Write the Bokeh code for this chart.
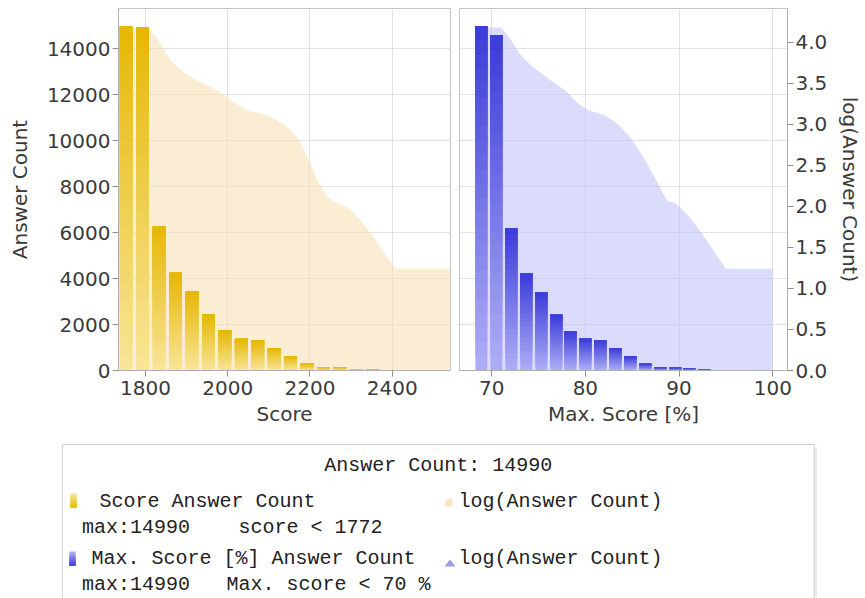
import numpy as np
from bokeh.plotting import figure
from bokeh.models import Range1d, LinearAxis, FixedTicker, PrintfTickFormatter, Grid
from bokeh.layouts import column, row
from bokeh.embed import file_html
from bokeh.resources import INLINE
from bokeh.core.properties import value

# ---------------- data ----------------
score_bins = [1753, 1793, 1833, 1873, 1913, 1953, 1993, 2033, 2073, 2113, 2153, 2193, 2233, 2273, 2313, 2353]
score_counts = [14990, 14950, 6270, 4250, 3440, 2440, 1740, 1380, 1310, 970, 610, 290, 145, 140, 70, 40]

pct_bins = [68.9, 70.5, 72.1, 73.7, 75.3, 76.9, 78.4, 80.0, 81.6, 83.2, 84.8, 86.4, 88.0, 89.6, 91.1, 92.7]
pct_counts = [14990, 14600, 6195, 4236, 3409, 2423, 1697, 1378, 1306, 972, 609, 290, 130, 116, 87, 58]

score_log_x = [1736, 1812, 1837, 1861, 1893, 1934, 1974, 2015, 2047, 2081, 2113, 2146, 2170, 2194,
               2219, 2243, 2259, 2292, 2323, 2356, 2388, 2408, 2540]
score_log_y = [4.18, 4.16, 3.98, 3.78, 3.63, 3.51, 3.41, 3.27, 3.17, 3.13, 3.07, 2.96, 2.84, 2.60,
               2.31, 2.11, 2.05, 1.99, 1.83, 1.62, 1.38, 1.24, 1.24]

pct_log_x = [68.3, 71.0, 71.9, 72.96, 74.35, 76.1, 77.86, 79.25, 80.3, 82.05, 83.4, 84.8, 86.2,
             87.6, 88.7, 89.7, 91.1, 92.5, 93.9, 95.0, 100.0]
pct_log_y = [4.18, 4.18, 4.06, 3.86, 3.70, 3.55, 3.41, 3.25, 3.17, 3.11, 3.01, 2.84, 2.60,
             2.31, 2.07, 2.03, 1.87, 1.66, 1.42, 1.24, 1.24]

count_ticks = [0, 2000, 4000, 6000, 8000, 10000, 12000, 14000]
score_ticks = [1800, 2000, 2200, 2400]
pct_ticks = [70, 80, 90, 100]
log_ticks = [0.0, 0.5, 1.0, 1.5, 2.0, 2.5, 3.0, 3.5, 4.0]

legend_title = "Answer Count: 14990"
legend_rows = ["Score Answer Count", "max:14990", "score < 1772",
               "Max. Score [%] Answer Count", "max:14990", "Max. score < 70 %"]
legend_log = "log(Answer Count)"

# ---------------- styling ----------------
FONT = "DejaVu Sans"
MONO = "Liberation Mono"
TXT = "#3a3a3a"
YEL_TOP, YEL_BOT = (229, 182, 0), (248, 228, 150)
BLU_TOP, BLU_BOT = (56, 56, 216), (172, 172, 246)
NSLICE = 24


def mix(c0, c1, t):
    return "#%02x%02x%02x" % tuple(int(round(a + (b - a) * t)) for a, b in zip(c0, c1))


def gradient_bars(p, xs, hs, width, top, bot):
    xs = np.asarray(xs, float)
    hs = np.asarray(hs, float)
    for j in range(NSLICE):
        t = j / NSLICE
        p.vbar(x=xs, width=width, bottom=hs * t, top=hs,
               fill_color=mix(bot, top, t), line_color=None)


def style(p):
    p.outline_line_color = "#c4c4c4"
    p.background_fill_color = "white"
    p.border_fill_color = "white"
    for ax in p.axis:
        ax.major_label_text_font = FONT
        ax.major_label_text_font_size = "20px"
        ax.major_label_text_color = TXT
        ax.axis_label_text_font = FONT
        ax.axis_label_text_font_size = "20px"
        ax.axis_label_text_font_style = "normal"
        ax.axis_label_text_color = TXT
        ax.axis_line_color = "#b0b0b0"
        ax.major_tick_line_color = "#909090"
        ax.minor_tick_line_color = None
        ax.major_tick_out = 6
        ax.major_tick_in = 0


# ---------------- left plot ----------------
p1 = figure(width=454, height=431, x_range=Range1d(1734.3, 2541.9), y_range=Range1d(0, 15750),
            output_backend="svg", toolbar_location=None,
            min_border_left=118, min_border_right=4, min_border_top=8, min_border_bottom=61)
p1.extra_y_ranges = {"log": Range1d(0, 4.41)}
p1.varea(x=score_log_x, y1=0, y2=score_log_y, y_range_name="log",
         fill_color="#F5DFAF", fill_alpha=0.55)
gradient_bars(p1, score_bins, score_counts, 31, YEL_TOP, YEL_BOT)
p1.xaxis.ticker = FixedTicker(ticks=score_ticks)
p1.yaxis.ticker = FixedTicker(ticks=count_ticks)
p1.xaxis.axis_label = "Score"
p1.yaxis.axis_label = "Answer Count"
p1.xgrid.ticker = FixedTicker(ticks=score_ticks)
p1.ygrid.ticker = FixedTicker(ticks=count_ticks)
p1.grid.grid_line_color = "#e2e2e2"
style(p1)
p1.xaxis.major_label_standoff = 4
p1.xaxis.axis_label_standoff = 4
p1.yaxis.major_label_standoff = 2
p1.yaxis.axis_label_standoff = 12

# ---------------- right plot ----------------
p2 = figure(width=411, height=431, x_range=Range1d(66.57, 101.57), y_range=Range1d(0, 15750),
            output_backend="svg", toolbar_location=None, y_axis_location=None,
            min_border_left=5, min_border_right=72, min_border_top=8, min_border_bottom=61)
p2.extra_y_ranges = {"log": Range1d(0, 4.41)}
p2.varea(x=pct_log_x, y1=0, y2=pct_log_y, y_range_name="log",
         fill_color="#BEBEF7", fill_alpha=0.55)
gradient_bars(p2, pct_bins, pct_counts, 1.26, BLU_TOP, BLU_BOT)
raxis = LinearAxis(y_range_name="log", ticker=FixedTicker(ticks=log_ticks),
                   formatter=PrintfTickFormatter(format="%.1f"), axis_label="log(Answer Count)")
p2.add_layout(raxis, "right")
p2.xaxis.ticker = FixedTicker(ticks=pct_ticks)
p2.xaxis.axis_label = "Max. Score [%]"
for g in list(p2.grid):
    if g.dimension == 1:
        g.visible = False
p2.xgrid.ticker = FixedTicker(ticks=pct_ticks)
p2.add_layout(Grid(dimension=1, ticker=FixedTicker(ticks=count_ticks)))
p2.grid.grid_line_color = "#e2e2e2"
style(p2)
p2.xaxis.major_label_standoff = 4
p2.xaxis.axis_label_standoff = 4
raxis.major_label_standoff = 2
raxis.axis_label_standoff = 8

# ---------------- legend panel ----------------
leg = figure(width=865, height=167, x_range=Range1d(0, 865), y_range=Range1d(598, 431),
             output_backend="svg", toolbar_location=None, min_border=0,
             x_axis_location=None, y_axis_location=None)
leg.grid.visible = False
leg.outline_line_color = None
leg.quad(left=[64.5], right=[816.5], top=[447], bottom=[620], fill_color="#ececec", line_color=None)
leg.quad(left=[61.8], right=[813.7], top=[444], bottom=[620], fill_color="white", line_color="#cfcfcf")
leg.text(x=[437.7], y=[465], text=[legend_title], text_font=value(MONO), text_font_size="20px",
         text_align="center", text_baseline="middle", text_color="#222222")
leg.text(x=[99, 81.6, 238, 91, 81.6, 226], y=[501, 527, 527, 558, 584, 584], text=legend_rows,
         text_font=value(MONO), text_font_size="20px", text_align="left", text_baseline="middle",
         text_color="#222222")
leg.text(x=[458, 458], y=[501, 558], text=[legend_log, legend_log],
         text_font=value(MONO), text_font_size="20px", text_align="left", text_baseline="middle",
         text_color="#222222")
# legend icons
for j in range(8):
    t = j / 8
    leg.quad(left=[70], right=[76], bottom=[507], top=[507 - 14 * (1 - t)], fill_color=mix(YEL_BOT, YEL_TOP, t), line_color=None)
    leg.quad(left=[69], right=[75], bottom=[565], top=[565 - 14 * (1 - t)], fill_color=mix(BLU_BOT, BLU_TOP, t), line_color=None)
leg.patch(x=[444, 446, 452, 452], y=[506, 499, 498, 506], fill_color="#F7E6BE", line_color=None)
leg.patch(x=[444, 449.5, 455], y=[566, 559, 566], fill_color="#9C9CEE", line_color=None)

layout = column(row(p1, p2), leg)
open("out.html", "w").write(file_html(layout, INLINE))
